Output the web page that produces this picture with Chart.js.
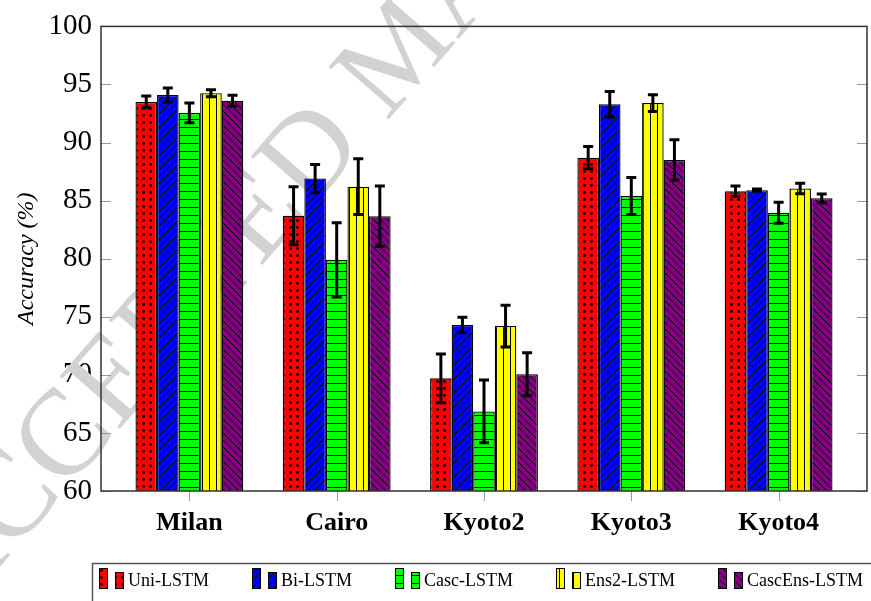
<!DOCTYPE html>
<html lang="en">
<head>
<meta charset="UTF-8">
<title>Accuracy</title>
<script src="https://cdn.jsdelivr.net/npm/chart.js"></script>
<style>
  body { margin: 0; background: #fff; }
  canvas { display: block; }
</style>
</head>
<body>
<canvas id="myChart" width="871" height="601"></canvas>
<script>
// values
const categories = ['Milan', 'Cairo', 'Kyoto2', 'Kyoto3', 'Kyoto4'];
const seriesNames = ['Uni-LSTM', 'Bi-LSTM', 'Casc-LSTM', 'Ens2-LSTM', 'CascEns-LSTM'];

const uniLstm = [93.5, 83.7, 69.7, 88.7, 85.8];
const uniErr = [0.5, 2.5, 2.1, 0.95, 0.45];
const biLstm = [94.1, 86.9, 74.3, 93.3, 85.9];
const biErr = [0.6, 1.2, 0.65, 1.1, 0.1];
const cascLstm = [92.55, 79.9, 66.85, 85.4, 83.95];
const cascErr = [0.85, 3.2, 2.7, 1.6, 0.9];
const ens2Lstm = [94.25, 86.2, 74.2, 93.4, 86.05];
const ens2Err = [0.3, 2.4, 1.8, 0.72, 0.45];
const cascEnsLstm = [93.6, 83.65, 70.05, 88.5, 85.2];
const cascEnsErr = [0.48, 2.6, 1.85, 1.75, 0.38];

const yTicks = [60, 65, 70, 75, 80, 85, 90, 95, 100];

const serif = '"Liberation Serif", "DejaVu Serif", serif';

// hatch patterns like the pgfplots ones
function makePattern(bg, kind) {
    var s = kind == 'hline' ? 8 : 7;
    var c = document.createElement('canvas');
    c.width = s; c.height = s;
    var g = c.getContext('2d');
    g.fillStyle = bg;
    g.fillRect(0, 0, s, s);
    g.strokeStyle = '#000';
    g.fillStyle = '#000';
    g.lineWidth = 1;
    g.beginPath();
    if (kind == 'dots') {
        g.arc(s / 2, s / 2, 1.4, 0, Math.PI * 2);
        g.fill();
    } else if (kind == 'ne') {
        g.moveTo(0, s); g.lineTo(s, 0);
        g.moveTo(-1, 1); g.lineTo(1, -1);
        g.moveTo(s - 1, s + 1); g.lineTo(s + 1, s - 1);
        g.stroke();
    } else if (kind == 'nw') {
        g.moveTo(0, 0); g.lineTo(s, s);
        g.moveTo(s - 1, -1); g.lineTo(s + 1, 1);
        g.moveTo(-1, s - 1); g.lineTo(1, s + 1);
        g.stroke();
    } else if (kind == 'hline') {
        g.moveTo(0, s - 0.5); g.lineTo(s, s - 0.5);
        g.stroke();
    } else if (kind == 'vline') {
        g.moveTo(s - 0.5, 0); g.lineTo(s - 0.5, s);
        g.stroke();
    }
    return g.createPattern(c, 'repeat');
}

function points(arr) {
    return arr.map(function (v, i) { return { x: i, y: v }; });
}

function makeSet(label, values, errors, fill) {
    return {
        label: label,
        data: points(values),
        errors: errors,
        backgroundColor: fill,
        borderColor: '#000',
        borderWidth: 1.3,
        categoryPercentage: 0.732,
        barPercentage: 1
    };
}

const data = {
    datasets: [
        makeSet(seriesNames[0], uniLstm, uniErr, makePattern('#ff0000', 'dots')),
        makeSet(seriesNames[1], biLstm, biErr, makePattern('#0000ff', 'ne')),
        makeSet(seriesNames[2], cascLstm, cascErr, makePattern('#00ff00', 'hline')),
        makeSet(seriesNames[3], ens2Lstm, ens2Err, makePattern('#ffff00', 'vline')),
        makeSet(seriesNames[4], cascEnsLstm, cascEnsErr, makePattern('#800080', 'nw'))
    ]
};

// grey watermark behind the bars
const watermark = {
    id: 'watermark',
    beforeDatasetsDraw(chart) {
        var ctx = chart.ctx;
        var text = 'ACCEPTED MANUSCRIPT';
        ctx.save();
        ctx.font = '122px ' + serif;
        var pre = ctx.measureText('ACCEPTED ').width;
        var mw = ctx.measureText('M').width;
        var ang = -49 * Math.PI / 180;
        var d = pre + mw / 2;
        // centre of the M sits near the top of the plot
        var cx = 398 - Math.cos(ang) * d, cy = 60 - Math.sin(ang) * d;
        ctx.translate(cx, cy);
        ctx.rotate(ang);
        ctx.fillStyle = '#d2d2d2';
        ctx.textBaseline = 'middle';
        ctx.fillText(text, 0, 0);
        ctx.restore();
    }
};

const errorBars = {
    id: 'errorBars',
    afterDatasetsDraw(chart) {
        var ctx = chart.ctx;
        var y = chart.scales.y;
        ctx.save();
        ctx.strokeStyle = '#000';
        ctx.lineWidth = 3;
        chart.data.datasets.forEach(function (ds, i) {
            chart.getDatasetMeta(i).data.forEach(function (bar, j) {
                var v = ds.data[j].y, e = ds.errors[j];
                var t = y.getPixelForValue(v + e), b = y.getPixelForValue(v - e);
                ctx.beginPath();
                ctx.moveTo(bar.x, t); ctx.lineTo(bar.x, b);
                ctx.moveTo(bar.x - 5, t); ctx.lineTo(bar.x + 5, t);
                ctx.moveTo(bar.x - 5, b); ctx.lineTo(bar.x + 5, b);
                ctx.stroke();
            });
        });
        ctx.restore();
    }
};

// frame, inward ticks and the boxed legend
const frame = {
    id: 'frame',
    afterDraw(chart) {
        var ctx = chart.ctx;
        var a = chart.chartArea;
        var x = chart.scales.x, y = chart.scales.y;
        ctx.save();
        ctx.strokeStyle = '#999';
        ctx.lineWidth = 1;
        ctx.beginPath();
        yTicks.forEach(function (t) {
            var py = Math.round(y.getPixelForValue(t)) + 0.5;
            ctx.moveTo(a.left, py); ctx.lineTo(a.left + 10, py);
            ctx.moveTo(a.right, py); ctx.lineTo(a.right - 10, py);
        });
        categories.forEach(function (c, i) {
            var px = Math.round(x.getPixelForValue(i)) + 0.5;
            ctx.moveTo(px, a.bottom); ctx.lineTo(px, a.bottom + 10);
        });
        ctx.stroke();

        ctx.strokeStyle = '#333';
        ctx.lineWidth = 1.5;
        ctx.strokeRect(a.left, a.top, a.right - a.left, a.bottom - a.top);

        // legend
        ctx.strokeStyle = '#555';
        ctx.strokeRect(92.5, 563.5, 800, 60);
        ctx.font = '18px ' + serif;
        ctx.textBaseline = 'middle';
        ctx.fillStyle = '#000';
        var lx = 99;
        chart.data.datasets.forEach(function (ds) {
            ctx.lineWidth = 1;
            ctx.strokeStyle = '#000';
            ctx.fillStyle = ds.backgroundColor;
            ctx.fillRect(lx + 0.5, 568.5, 8, 20);
            ctx.strokeRect(lx + 0.5, 568.5, 8, 20);
            ctx.fillRect(lx + 16.5, 572.5, 8, 16);
            ctx.strokeRect(lx + 16.5, 572.5, 8, 16);
            ctx.fillStyle = '#000';
            ctx.fillText(ds.label, lx + 29, 581);
            lx += 29 + ctx.measureText(ds.label).width + 43;
        });
        ctx.restore();
    }
};

const config = {
    type: 'bar',
    data: data,
    options: {
        responsive: false,
        animation: false,
        layout: { padding: { left: 0, right: 4, top: 20, bottom: 0 } },
        plugins: {
            legend: { display: false },
            tooltip: { enabled: false }
        },
        scales: {
            x: {
                type: 'linear',
                min: -0.6,
                max: 4.6,
                offset: false,
                afterFit: function (s) { s.height = 110; },
                grid: { display: false, drawTicks: false },
                border: { display: false },
                ticks: {
                    stepSize: 1,
                    includeBounds: false,
                    autoSkip: false,
                    maxRotation: 0,
                    padding: 17,
                    color: '#000',
                    font: { family: serif, size: 26, weight: 'bold' },
                    callback: function (v) {
                        return Number.isInteger(v) ? categories[v] : '';
                    }
                }
            },
            y: {
                min: 60,
                max: 100,
                afterFit: function (s) { s.width = 101; },
                afterBuildTicks: function (s) {
                    s.ticks = yTicks.map(function (v) { return { value: v }; });
                },
                grid: { display: false, drawTicks: false },
                border: { display: false },
                ticks: {
                    padding: 9,
                    color: '#000',
                    font: { family: serif, size: 29 }
                },
                title: {
                    display: true,
                    text: 'Accuracy (%)',
                    color: '#000',
                    padding: 12,
                    font: { family: serif, size: 24, style: 'italic' }
                }
            }
        }
    },
    plugins: [watermark, errorBars, frame]
};

const myChart = new Chart(document.getElementById('myChart'), config);
</script>
</body>
</html>
